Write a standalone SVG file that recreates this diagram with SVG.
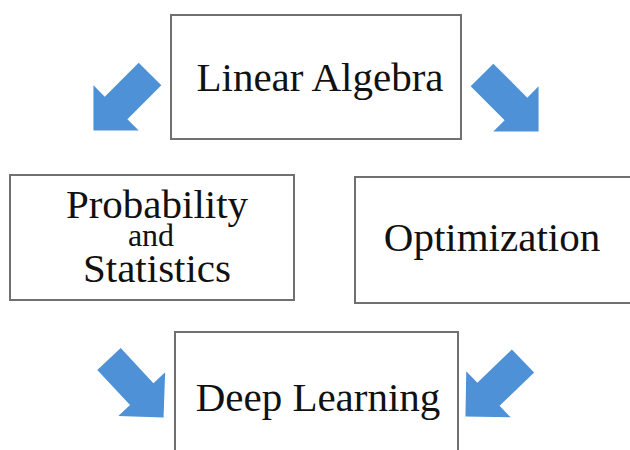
<svg xmlns="http://www.w3.org/2000/svg" width="630" height="450" viewBox="0 0 630 450">
  <defs>
    <style>
      .box { fill: #ffffff; stroke: #707070; stroke-width: 2; }
      .label { font-family: "Liberation Serif", "Times New Roman", serif; fill: #111111; text-anchor: middle; }
      .big { font-size: 41px; }
      .small { font-size: 32px; }
      .arrow { fill: #4f91d6; }
    </style>
    <!-- block arrow pointing along +x, tail centred at the origin -->
    <path id="blockArrow" d="M0,-16 L48,-16 L48,-32 L80,0 L48,32 L48,16 L0,16 Z"/>
  </defs>

  <rect width="630" height="450" fill="#ffffff"/>

  <g id="connectors">
    <use href="#blockArrow" class="arrow" transform="translate(150,74) rotate(135)"/>
    <use href="#blockArrow" class="arrow" transform="translate(482,75) rotate(45)"/>
    <use href="#blockArrow" class="arrow" transform="translate(109,359) rotate(47)"/>
    <use href="#blockArrow" class="arrow" transform="translate(523,361) rotate(136)"/>
  </g>

  <g id="linear-algebra">
    <rect class="box" x="171" y="15" width="290" height="124"/>
    <text class="label big" x="320" y="91">Linear Algebra</text>
  </g>

  <g id="probability-statistics">
    <rect class="box" x="10" y="175" width="284" height="125"/>
    <text class="label big" x="157" y="218">Probability</text>
    <text class="label small" x="151" y="246">and</text>
    <text class="label big" x="157" y="282">Statistics</text>
  </g>

  <g id="optimization">
    <rect class="box" x="355" y="177" width="300" height="126"/>
    <text class="label big" x="492" y="251">Optimization</text>
  </g>

  <g id="deep-learning">
    <rect class="box" x="175" y="332" width="283" height="140"/>
    <text class="label big" x="318" y="411">Deep Learning</text>
  </g>
</svg>
